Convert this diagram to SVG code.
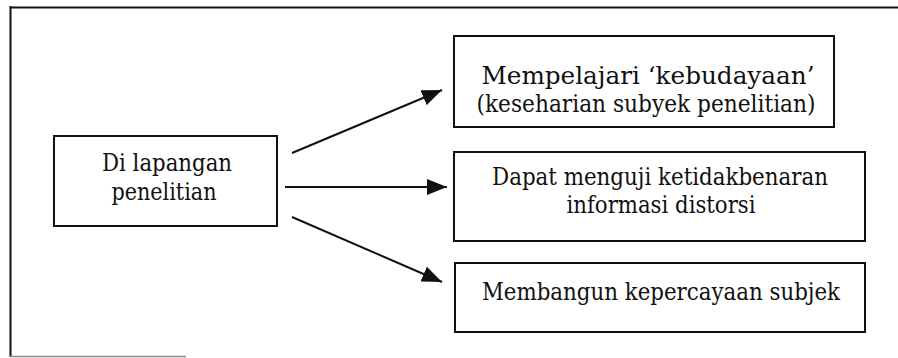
<svg xmlns="http://www.w3.org/2000/svg" width="898" height="358" viewBox="0 0 898 358">
<style>
.box{fill:#fff;stroke:#111;stroke-width:2}
.t{font-family:"DejaVu Serif Condensed","DejaVu Serif",serif;font-stretch:condensed;font-size:24px;fill:#111;text-anchor:middle}
.c{stroke:#111;stroke-width:2;fill:none}
</style>
<defs>
<marker id="ah" markerWidth="20" markerHeight="16" refX="20" refY="8" orient="auto" markerUnits="userSpaceOnUse">
<path d="M0,0 L20,8 L0,16 Z" fill="#111"/>
</marker>
</defs>
<rect width="898" height="358" fill="#fff"/>
<g id="frame">
<line x1="10" y1="7.5" x2="898" y2="7.5" stroke="#111" stroke-width="2"/>
<line x1="10.5" y1="6" x2="10.5" y2="357" stroke="#111" stroke-width="2"/>
<line x1="10" y1="356.5" x2="186" y2="356.5" stroke="#888" stroke-width="1.5"/>
</g>
<g id="node-lapangan">
<rect class="box" x="54" y="136" width="223" height="90"/>
<text class="t" x="167" y="171" textLength="130" lengthAdjust="spacingAndGlyphs">Di lapangan</text>
<text class="t" x="164" y="200" textLength="105" lengthAdjust="spacingAndGlyphs">penelitian</text>
</g>
<g id="node-mempelajari">
<rect class="box" x="454" y="36" width="380" height="91"/>
<text class="t" x="648" y="84" textLength="333" lengthAdjust="spacingAndGlyphs">Mempelajari ‘kebudayaan’</text>
<text class="t" x="646" y="112" textLength="339" lengthAdjust="spacingAndGlyphs">(keseharian subyek penelitian)</text>
</g>
<g id="node-menguji">
<rect class="box" x="454" y="152" width="411" height="89"/>
<text class="t" x="660" y="185" textLength="336" lengthAdjust="spacingAndGlyphs">Dapat menguji ketidakbenaran</text>
<text class="t" x="661" y="213" textLength="189" lengthAdjust="spacingAndGlyphs">informasi distorsi</text>
</g>
<g id="node-membangun">
<rect class="box" x="455" y="263" width="410" height="69"/>
<text class="t" x="661" y="300" textLength="358" lengthAdjust="spacingAndGlyphs">Membangun kepercayaan subjek</text>
</g>
<g id="connectors">
<line class="c" x1="292" y1="153" x2="442" y2="90" marker-end="url(#ah)"/>
<line class="c" x1="285" y1="187" x2="447" y2="187" marker-end="url(#ah)"/>
<line class="c" x1="292" y1="217" x2="442" y2="282" marker-end="url(#ah)"/>
</g>
</svg>
